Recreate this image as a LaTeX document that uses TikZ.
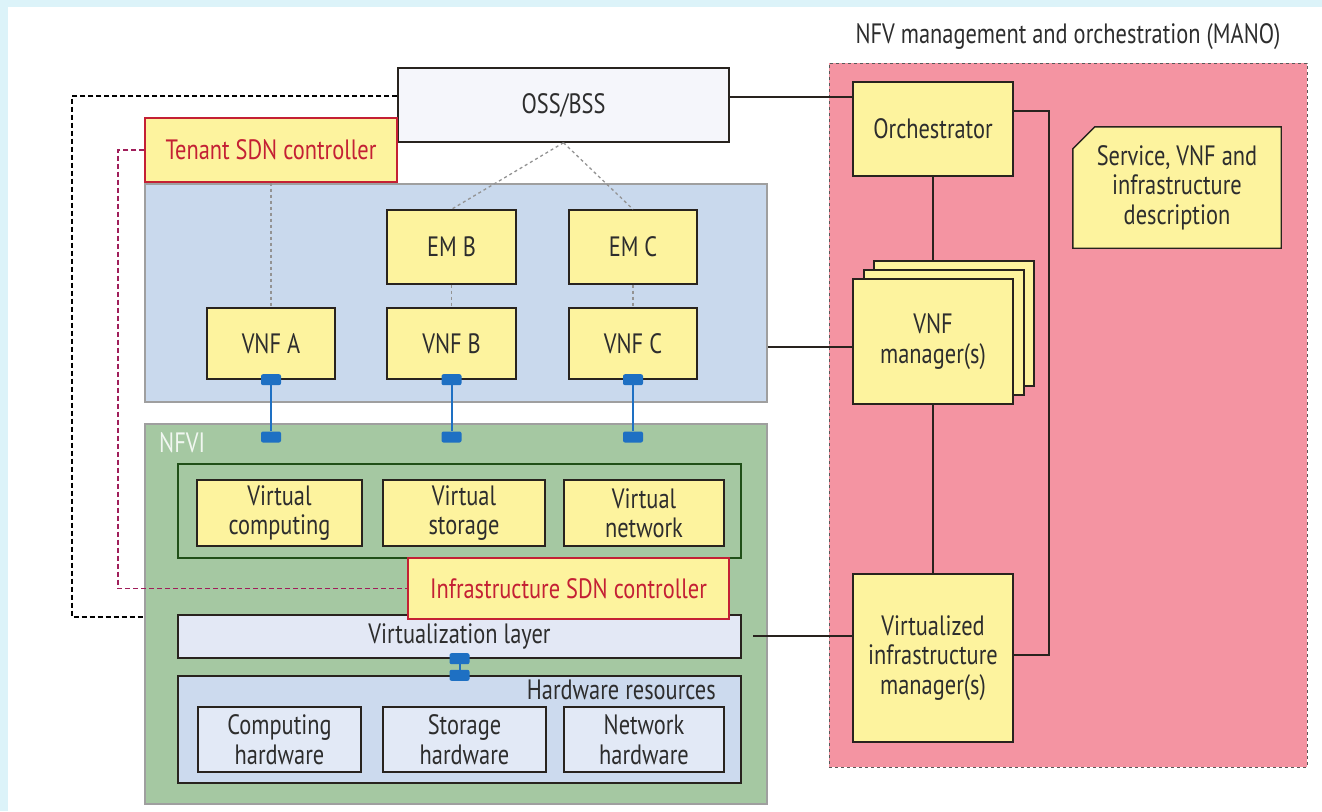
\documentclass[tikz,border=0pt]{standalone}
\usepackage{fontspec}
\setmainfont[FakeStretch=0.8]{PT Sans}
\usetikzlibrary{positioning}
\definecolor{framecyan}{RGB}{220,243,249}
\definecolor{boxyellow}{RGB}{253,243,158}
\definecolor{manopink}{RGB}{244,148,162}
\definecolor{vnfblue}{RGB}{201,217,237}
\definecolor{nfvigreen}{RGB}{165,200,162}
\definecolor{vlfill}{RGB}{227,232,245}
\definecolor{hwblue}{RGB}{204,218,238}
\definecolor{hwitem}{RGB}{226,233,246}
\definecolor{ossfill}{RGB}{245,246,251}
\definecolor{sdnred}{RGB}{196,32,52}
\definecolor{sdnmagenta}{RGB}{160,30,90}
\definecolor{portblue}{RGB}{30,112,195}
\definecolor{boxline}{RGB}{40,35,30}
\definecolor{txt}{RGB}{45,45,45}
\tikzset{
  box/.style={draw=boxline, line width=1.4pt, fill=boxyellow, align=center, inner sep=0pt, text=txt},
  sdnbox/.style={box, draw=sdnred, text=sdnred},
  region/.style={draw=gray!75, line width=1.1pt, inner sep=0pt},
  port/.style={fill=portblue, rounded corners=2pt, minimum width=20pt, minimum height=11pt, inner sep=0pt},
  portline/.style={draw=portblue, line width=2pt},
  mgmt/.style={draw=boxline, line width=1.6pt},
  dotlink/.style={draw=gray!85, dash pattern=on 3pt off 3pt, line width=1.3pt},
  ossloop/.style={draw=black, dash pattern=on 5pt off 3pt, line width=1.3pt},
  sdnloop/.style={draw=sdnmagenta, dash pattern=on 5pt off 3pt, line width=1.3pt}
}
% box from corner (x1,y1) to corner (x2,y2), in pixels from the top left
\def\pbox#1#2#3#4#5#6#7{%
  \pgfmathsetmacro\cx{(#3+#5)/2}
  \pgfmathsetmacro\cy{(#4+#6)/2}
  \pgfmathsetmacro\bw{#5-#3}
  \pgfmathsetmacro\bh{#6-#4}
  \node[#2, minimum width=\bw pt, minimum height=\bh pt] (#1) at (\cx,\cy) {#7};
}
\begin{document}
\begin{tikzpicture}[x=1pt, y=-1pt, font=\fontsize{28}{29.5}\selectfont]
  \useasboundingbox (0,0) rectangle (1322,811);
  \fill[framecyan] (0,0) rectangle (1322,811);
  \fill[white] (8,7) rectangle (1322,811);

  % tenant side
  \pbox{vnfarea}{region, fill=vnfblue}{145}{184}{767}{402}{}
  \pbox{oss}{box, fill=ossfill}{398}{68}{729}{142}{OSS/BSS}
  \pbox{tenant}{sdnbox}{145}{118}{397}{182}{Tenant SDN controller}
  \pbox{emb}{box}{387}{210}{516}{284}{EM B}
  \pbox{emc}{box}{569}{210}{697}{284}{EM C}
  \pbox{vnfa}{box}{207}{308}{335}{379}{VNF A}
  \pbox{vnfb}{box}{387}{308}{516}{379}{VNF B}
  \pbox{vnfc}{box}{569}{308}{697}{379}{VNF C}

  % NFVI
  \pbox{nfvi}{region, fill=nfvigreen}{145}{424}{767}{804}{}
  \node[anchor=west, text=white!85!nfvigreen, inner sep=0pt] (nfvilabel) at (159,443) {NFVI};
  \pbox{vres}{draw=boxline!80!green, line width=1.4pt}{178}{464}{741}{558}{}
  \pbox{vcomp}{box}{197}{480}{362}{546}{Virtual\\computing}
  \pbox{vstor}{box}{383}{480}{545}{546}{Virtual\\storage}
  \pbox{vnet}{box}{564}{480}{724}{546}{Virtual\\network}
  \pbox{vlayer}{box, fill=vlfill}{178}{615}{741}{658}{Virtualization layer}
  \pbox{hw}{box, fill=hwblue}{178}{676}{741}{783}{}
  \node[anchor=east, text=txt, inner sep=0pt] (hwlabel) at (716,690) {Hardware resources};
  \pbox{hwcomp}{box, fill=hwitem}{198}{707}{361}{772}{Computing\\hardware}
  \pbox{hwstor}{box, fill=hwitem}{383}{707}{546}{772}{Storage\\hardware}
  \pbox{hwnet}{box, fill=hwitem}{564}{707}{724}{772}{Network\\hardware}
  \pbox{infra}{sdnbox}{408}{558}{729}{619}{Infrastructure SDN controller}

  % MANO
  \pbox{mano}{draw=gray!70!black, dashed, fill=manopink, line width=0.8pt}{829}{63}{1307}{767}{}
  \node[text=txt] (manotitle) at (1068,37) {NFV management and orchestration (MANO)};
  \pbox{orch}{box}{853}{82}{1013}{176}{Orchestrator}
  \pbox{vnfmback}{box}{874}{261}{1034}{386}{}
  \pbox{vnfmmid}{box}{864}{270}{1024}{395}{}
  \pbox{vnfm}{box}{853}{279}{1013}{404}{VNF\\manager(s)}
  \pbox{vim}{box}{853}{574}{1013}{742}{Virtualized\\infrastructure\\manager(s)}
  \pbox{desc}{inner sep=0pt}{1073}{127}{1281}{248}{}
  \draw[box] ([yshift=-22pt]desc.north west) -- ([xshift=22pt]desc.north west)
    -- (desc.north east) -- (desc.south east) -- (desc.south west) -- cycle;
  \node[align=center, text=txt] (desctext) at (desc) {Service, VNF and\\infrastructure\\description};

  % dotted links
  \draw[dotlink] (oss.south) -- (emb.north);
  \draw[dotlink] (oss.south) -- (emc.north);
  \draw[dotlink] (tenant.south) -- (vnfa.north);
  \draw[dotlink] (emb.south) -- (vnfb.north);
  \draw[dotlink] (emc.south) -- (vnfc.north);

  % ports
  \foreach \v in {a,b,c}{
    \node[port] (porttop\v) at (vnf\v.south) {};
    \node[port] (portbot\v) at (vnf\v.south |- 0,437) {};
    \draw[portline] (porttop\v) -- (portbot\v);
  }
  \node[port] (vlport) at (vlayer.south) {};
  \node[port] (hwport) at (hw.north) {};
  \draw[portline] (vlport) -- (hwport);

  % dashed control loops
  \coordinate (oloop) at (72,617);
  \draw[ossloop] ([yshift=9pt]oss.west) -| (oloop) -- (oloop -| nfvi.west);
  \coordinate (sloop) at (118,588.5);
  \draw[sdnloop] (tenant.west) -| (sloop) -- (infra.west);

  % management links
  \draw[mgmt] ([yshift=8pt]oss.east) -- ([yshift=8pt]oss.east -| orch.west);
  \draw[mgmt] (orch.south) -- (orch.south |- vnfmback.north);
  \draw[mgmt] (vnfm.south) -- (vim.north);
  \draw[mgmt] ([yshift=18pt]orch.east) -- ++(35,0) |- ([yshift=3pt]vim.east);
  \draw[mgmt] ([yshift=-5.5pt]vnfm.west) -- ([yshift=-5.5pt]vnfm.west -| vnfarea.east);
  \draw[mgmt] ([yshift=0.5pt]vim.west |- vlayer.east) -- ([xshift=11pt, yshift=0.5pt]vlayer.east);
\end{tikzpicture}
\end{document}
